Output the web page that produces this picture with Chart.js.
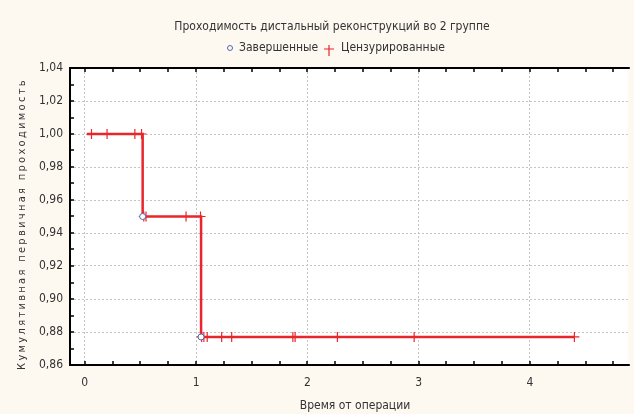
<!DOCTYPE html>
<html>
<head>
<meta charset="utf-8">
<script src="https://cdn.jsdelivr.net/npm/chart.js@4.4.1/dist/chart.umd.min.js"></script>
<style>
  html, body { margin: 0; padding: 0; background: #fdf9f1; }
  #wrap { width: 634px; height: 414px; position: relative; }
</style>
</head>
<body>
<div id="wrap"><canvas id="km" width="634" height="414"></canvas></div>
<script>
// Kaplan-Meier curve, group 2
const chartTitle = 'Проходимость дистальный реконструкций во 2 группе';
const legendLabels = ['Завершенные', 'Цензурированные'];
const xTitle = 'Время от операции';
const yTitle = 'Кумулятивная первичная проходимость';

const xTicks = [0, 1, 2, 3, 4];
const yTicks = [0.86, 0.88, 0.90, 0.92, 0.94, 0.96, 0.98, 1.00, 1.02, 1.04];

// step curve
const stepTimes = [0.02, 0.52, 1.045, 4.4];
const stepSurv = [1.0, 0.95, 0.877, 0.877];

// completed (events)
const eventTimes = [0.52, 1.045];
const eventSurv = [0.95, 0.877];

// censored
const censTimes = [0.06, 0.20, 0.45, 0.51, 0.53, 0.55, 0.91, 1.04,
                   1.05, 1.07, 1.10, 1.23, 1.32, 1.87, 1.89, 2.27, 2.96, 4.40];
const censSurv = [1.0, 1.0, 1.0, 1.0, 0.95, 0.95, 0.95, 0.95,
                  0.877, 0.877, 0.877, 0.877, 0.877, 0.877, 0.877, 0.877, 0.877, 0.877];

const FONT = "'Liberation Sans Narrow', 'DejaVu Sans Condensed', 'Arial Narrow', sans-serif";
const RED = '#e8262b';
const BLUE = '#5066b0';
const GRID = '#c4c4c4';

const toXY = (xs, ys) => xs.map((x, i) => ({ x: x, y: ys[i] }));

const decor = {
    id: 'decor',
    beforeDraw(chart) {
        const { ctx, chartArea: a } = chart;
        ctx.save();
        ctx.fillStyle = '#ffffff';
        ctx.fillRect(a.left, a.top, a.right - a.left, a.bottom - a.top);
        ctx.restore();
    },
    afterDraw(chart) {
        const { ctx, chartArea: a } = chart;
        const xs = chart.scales.x, ys = chart.scales.y;
        ctx.save();

        // frame
        ctx.strokeStyle = '#000';
        ctx.lineWidth = 2;
        ctx.beginPath();
        ctx.moveTo(a.right + 2, a.top);
        ctx.lineTo(a.left, a.top);
        ctx.lineTo(a.left, a.bottom);
        ctx.lineTo(a.right + 2, a.bottom);
        ctx.stroke();

        // inward minor ticks
        ctx.lineWidth = 1.5;
        ctx.beginPath();
        for (let v = 0.86; v <= 1.0401; v += 0.01) {
            const py = Math.round(ys.getPixelForValue(v));
            ctx.moveTo(a.left, py);
            ctx.lineTo(a.left + 4, py);
        }
        for (let v = 0; v <= 4.9; v += 0.25) {
            const px = Math.round(xs.getPixelForValue(v));
            ctx.moveTo(px, a.bottom);
            ctx.lineTo(px, a.bottom - 4);
            ctx.moveTo(px, a.top);
            ctx.lineTo(px, a.top + 4);
        }
        ctx.stroke();

        // title
        ctx.fillStyle = '#333';
        ctx.textBaseline = 'middle';
        ctx.textAlign = 'center';
        ctx.font = '12px ' + FONT;
        ctx.fillText(chartTitle, 332, 27);

        // legend
        ctx.textAlign = 'left';
        ctx.strokeStyle = BLUE;
        ctx.lineWidth = 1;
        ctx.beginPath();
        ctx.arc(230, 48, 2.5, 0, Math.PI * 2);
        ctx.stroke();
        ctx.fillText(legendLabels[0], 239, 48);
        ctx.strokeStyle = RED;
        ctx.lineWidth = 1.2;
        ctx.beginPath();
        ctx.moveTo(329, 45); ctx.lineTo(329, 56);
        ctx.moveTo(324, 49); ctx.lineTo(334, 49);
        ctx.stroke();
        ctx.fillText(legendLabels[1], 341, 48);

        // x title
        ctx.textAlign = 'center';
        ctx.fillText(xTitle, 355, 406);

        // y title, letter-spaced
        ctx.translate(22, 224);
        ctx.rotate(-Math.PI / 2);
        ctx.font = '11px ' + FONT;
        ctx.letterSpacing = '2.3px';
        ctx.fillText(yTitle, 0, 0);
        ctx.restore();
    }
};

new Chart(document.getElementById('km').getContext('2d'), {
    data: {
        datasets: [
            {
                type: 'scatter',
                label: legendLabels[0],
                data: toXY(eventTimes, eventSurv),
                pointStyle: 'circle',
                pointRadius: 3,
                borderColor: BLUE,
                backgroundColor: '#ffffff',
                borderWidth: 1,
                order: 0
            },
            {
                type: 'scatter',
                label: legendLabels[1],
                data: toXY(censTimes, censSurv),
                pointStyle: 'cross',
                pointRadius: 5,
                borderColor: RED,
                borderWidth: 1.2,
                order: 1
            },
            {
                type: 'line',
                label: 'curve',
                data: toXY(stepTimes, stepSurv),
                stepped: 'before',
                borderColor: RED,
                borderWidth: 2.5,
                pointRadius: 0,
                fill: false,
                order: 2
            }
        ]
    },
    options: {
        responsive: false,
        animation: false,
        layout: { padding: { top: 68, right: 0, left: 0, bottom: 0 } },
        plugins: {
            legend: { display: false },
            title: { display: false },
            tooltip: { enabled: false }
        },
        scales: {
            x: {
                type: 'linear',
                min: -0.133,
                max: 4.88,
                afterBuildTicks: s => { s.ticks = xTicks.map(v => ({ value: v })); },
                afterFit: s => { s.height = 49; },
                border: { display: false, dash: [2, 2] },
                grid: { color: GRID, lineWidth: 1, drawTicks: false },
                ticks: {
                    padding: 11,
                    color: '#333',
                    font: { family: FONT, size: 12 },
                    maxRotation: 0,
                    callback: v => String(v)
                }
            },
            y: {
                type: 'linear',
                min: 0.86,
                max: 1.04,
                afterBuildTicks: s => { s.ticks = yTicks.map(v => ({ value: v })); },
                afterFit: s => { s.width = 70; },
                border: { display: false, dash: [2, 2] },
                grid: { color: GRID, lineWidth: 1, drawTicks: false },
                ticks: {
                    padding: 7,
                    color: '#333',
                    font: { family: FONT, size: 12 },
                    callback: v => v.toFixed(2).replace('.', ',')
                }
            }
        }
    },
    plugins: [decor]
});
</script>
</body>
</html>
